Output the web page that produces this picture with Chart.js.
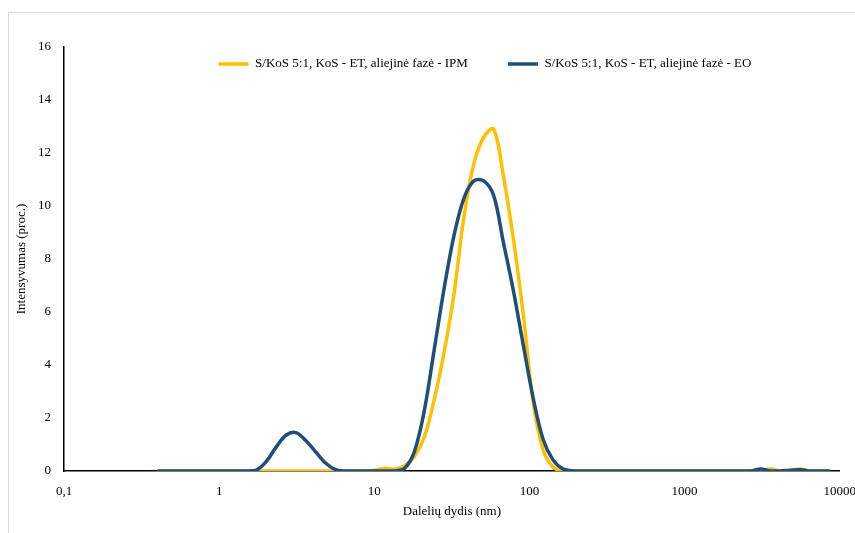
<!DOCTYPE html>
<html lang="lt">
<head>
    <meta charset="UTF-8">
    <title>Dalelių dydžio pasiskirstymas</title>
    <script src="https://cdn.jsdelivr.net/npm/chart.js"></script>
    <style>
        body {
            margin: 0;
            background: #fff;
            overflow: hidden;
            font-family: "Liberation Serif", serif;
        }
        .frame {
            position: absolute;
            left: 8px;
            top: 12px;
            width: 1000px;
            height: 1000px;
            border: 1px solid #d9d9d9;
        }
        /* šiek tiek platesnė už langą, kad 10000 žymė būtų nukirpta kaip originale */
        .chart-box {
            position: absolute;
            left: 0;
            top: 0;
            width: 869px;
            height: 533px;
        }
    </style>
</head>
<body>
    <div class="frame"></div>
    <div class="chart-box">
        <canvas id="dlsChart"></canvas>
    </div>

    <script>
        // dalelių dydžio intervalai (nm)
        const sizes = [
            0.4, 0.4632, 0.5365, 0.6213, 0.7195, 0.8332, 0.9649, 1.117, 1.294, 1.499,
            1.736, 2.01, 2.328, 2.696, 3.122, 3.615, 4.187, 4.849, 5.615, 6.503,
            7.531, 8.721, 10.1, 11.7, 13.54, 15.69, 18.17, 21.04, 24.36, 28.21,
            32.67, 37.84, 43.82, 50.75, 58.77, 68.06, 78.82, 91.28, 105.7, 122.4,
            141.8, 164.2, 190.1, 220.2, 255, 295.3, 342, 396.1, 458.7, 531.2,
            615.1, 712.4, 825, 955.4, 1106, 1281, 1484, 1718, 1990, 2305,
            2669, 3091, 3580, 4145, 4801, 5560, 6439, 7456, 8635
        ];

        // intensyvumas (proc.) - IPM
        const ipm = [
            0, 0, 0, 0, 0, 0, 0, 0, 0, 0,
            0, 0, 0, 0, 0, 0, 0, 0, 0, 0,
            0, 0, 0.03, 0.1, 0.07, 0.2, 0.55, 1.3, 2.7, 4.5,
            6.7, 9.6, 11.6, 12.6, 12.9, 11.1, 8.75, 5.9, 2.6, 0.8,
            0.15, 0, 0, 0, 0, 0, 0, 0, 0, 0,
            0, 0, 0, 0, 0, 0, 0, 0, 0, 0,
            0, 0, 0.08, 0, 0.02, 0.08, 0, 0, 0
        ];

        // intensyvumas (proc.) - EO
        const eo = [
            0, 0, 0, 0, 0, 0, 0, 0, 0, 0,
            0.03, 0.35, 0.9, 1.35, 1.45, 1.15, 0.72, 0.3, 0.05, 0,
            0, 0, 0, 0, 0, 0.1, 0.75, 2.3, 4.6, 6.9,
            8.9, 10.3, 10.95, 10.95, 10.4, 8.6, 6.8, 4.75, 2.75, 1.2,
            0.42, 0.08, 0, 0, 0, 0, 0, 0, 0, 0,
            0, 0, 0, 0, 0, 0, 0, 0, 0, 0,
            0, 0.08, 0, 0, 0.03, 0.05, 0, 0, 0
        ];

        const xTicks = [0.1, 1, 10, 100, 1000, 10000];
        const seriesNames = [
            'S/KoS 5:1, KoS - ET, aliejinė fazė - IPM',
            'S/KoS 5:1, KoS - ET, aliejinė fazė - EO'
        ];

        const toPoints = vals => sizes.map((s, i) => ({ x: s, y: vals[i] }));

        // legenda Excel'yje stovi braižymo srityje, kiek dešiniau centro,
        // todėl išdėstyme ji beveik neužima vietos ir perkeliama po jo
        const legendShift = {
            id: 'legendShift',
            afterLayout(chart) {
                const lg = chart.legend;
                if (!lg) return;
                lg.left += 46.5;
                lg.right += 46.5;
                lg.top = 17.5;
                lg.bottom = lg.top + 75;
                lg.height = 75;
            }
        };

        Chart.defaults.font.family = '"Liberation Serif", "Times New Roman", serif';
        Chart.defaults.font.size = 13;
        Chart.defaults.color = '#000';

        const ctx = document.getElementById('dlsChart').getContext('2d');
        new Chart(ctx, {
            type: 'line',
            data: {
                datasets: [{
                    label: seriesNames[0],
                    data: toPoints(ipm),
                    borderColor: '#FFC000',
                    backgroundColor: '#FFC000',
                    borderWidth: 3.5,
                    pointRadius: 0,
                    tension: 0.35,
                    order: 1
                }, {
                    label: seriesNames[1],
                    data: toPoints(eo),
                    borderColor: '#1F4E79',
                    backgroundColor: '#1F4E79',
                    borderWidth: 3.5,
                    pointRadius: 0,
                    tension: 0.35,
                    order: 0
                }]
            },
            options: {
                responsive: true,
                maintainAspectRatio: false,
                animation: false,
                layout: {
                    padding: { left: 8, top: 46, right: 0, bottom: 12 }
                },
                plugins: {
                    tooltip: { enabled: false },
                    legend: {
                        position: 'top',
                        align: 'center',
                        maxHeight: 1,
                        labels: {
                            usePointStyle: true,
                            pointStyle: 'line',
                            pointStyleWidth: 30,
                            boxHeight: 13,
                            padding: 40,
                            color: '#000',
                            sort: (a, b) => a.datasetIndex - b.datasetIndex
                        }
                    }
                },
                scales: {
                    x: {
                        type: 'logarithmic',
                        min: 0.1,
                        max: 10000,
                        afterBuildTicks: scale => {
                            scale.ticks = xTicks.map(v => ({ value: v }));
                        },
                        afterFit: scale => { scale.height = 50; },
                        ticks: {
                            padding: 13,
                            autoSkip: false,
                            maxRotation: 0,
                            callback: v => String(v).replace('.', ',')
                        },
                        grid: { color: 'transparent', drawTicks: false },
                        border: { color: '#000', width: 1.5 },
                        title: {
                            display: true,
                            text: 'Dalelių dydis (nm)',
                            padding: { top: 0, bottom: 2 }
                        }
                    },
                    y: {
                        min: 0,
                        max: 16,
                        afterFit: scale => { scale.width = 56; },
                        ticks: { stepSize: 2, padding: 13 },
                        grid: { color: 'transparent', drawTicks: false },
                        border: { color: '#000', width: 1.5 },
                        title: {
                            display: true,
                            text: 'Intensyvumas (proc.)',
                            padding: { top: 6, bottom: 0 }
                        }
                    }
                }
            },
            plugins: [legendShift]
        });
    </script>
</body>
</html>
